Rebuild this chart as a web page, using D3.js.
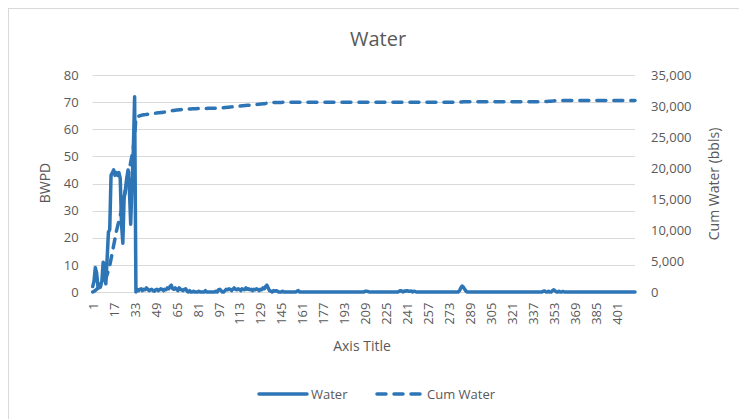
<!DOCTYPE html>
<html>
<head>
<meta charset="utf-8">
<script src="https://cdn.jsdelivr.net/npm/d3@7"></script>
<style>
  body { margin: 0; background: #fff; }
  text { font-family: "Open Sans", sans-serif; fill: #595959; }
</style>
</head>
<body>
<div id="chart"></div>
<script>
// daily water (BWPD), one value per day, days 1..415
const water = [
  2,4,9,7,2,3,2,4,11,10,3,12,22,23,43,44,45,43,44,43,
  44,42,25,18,35,38,42,45,38,25,40,52,72,0,1,0.5,1,1.2,0.5,1,
  0.8,1.5,1,0.5,0.8,1,0.5,0.3,0.8,1,0.5,0.8,1.2,1,0.5,1,0.8,1.5,1.2,2,
  2.5,1.2,1,1.5,1,0.5,1.5,1,0.8,0.5,1,1.2,0.3,0,0.5,0,0,0.3,0,0,
  0,0.3,0,0,0,0,0.5,0,0,0,0,0,0,0,0.3,0,0.8,1,0.5,0,
  0,0.5,1,0.8,1.2,1,0.5,1,1.5,1,0.8,1.2,1,0.5,1.2,1,0.8,1.5,1,1.2,
  0.8,1,0.5,1,0.8,1.2,1,0.5,1,0.8,1.5,1.2,2,2.5,1.5,0.5,0.3,0,0.5,0.3,
  0.5,0.3,0,0,0,0.3,0,0,0,0,0,0,0,0,0,0,0.3,0.5,0,0,
  0,0,0,0,0,0,0,0,0,0,0,0,0,0,0,0,0,0,0,0,
  0,0,0,0,0,0,0,0,0,0,0,0,0,0,0,0,0,0,0,0,
  0,0,0,0,0,0,0,0,0.3,0.3,0.2,0,0,0,0,0,0,0,0,0,
  0,0,0,0,0,0,0,0,0,0,0,0,0,0,0.3,0.5,0.3,0,0.4,0.3,
  0.5,0.3,0.3,0.4,0,0.3,0.2,0,0,0,0,0,0,0,0,0,0,0,0,0,
  0,0,0,0,0,0,0,0,0,0,0,0,0,0,0,0,0,0,0,0,
  0.5,1.5,2.2,1.8,1,0.3,0,0,0,0,0,0,0,0,0,0,0,0,0,0,
  0,0,0,0,0,0,0,0,0,0,0,0,0,0,0,0,0,0,0,0,
  0,0,0,0,0,0,0,0,0,0,0,0,0,0,0,0,0,0,0,0,
  0,0,0,0,0.3,0.4,0,0,0.3,0,0,0.5,0.8,0.4,0,0,0.3,0,0,0.2,
  0,0,0,0,0,0,0,0,0,0,0,0,0,0,0,0,0,0,0,0,
  0,0,0,0,0,0,0,0,0,0,0,0,0,0,0,0,0,0,0,0,
  0,0,0,0,0,0,0,0,0,0,0,0,0,0,0
];

// cumulative water (bbls)
const cumWater = [
  0,100,250,450,600,700,800,1000,1300,1700,2200,2800,3500,4300,5300,6400,7500,8600,9700,10600,
  11400,12300,13300,14300,15300,16300,17400,18600,19800,20900,22000,23300,25000,28200,28300,28360,28420,28500,28540,28580,
  28610,28640,28670,28700,28730,28760,28790,28820,28850,28880,28900,28920,28940,28960,28990,29020,29060,29100,29140,29180,
  29220,29260,29290,29320,29350,29370,29390,29410,29430,29450,29470,29490,29500,29510,29520,29530,29540,29550,29560,29570,
  29580,29580,29590,29590,29600,29600,29610,29610,29620,29620,29630,29630,29640,29640,29650,29650,29660,29680,29700,29710,
  29720,29740,29760,29790,29810,29840,29860,29880,29910,29930,29950,29970,29990,30010,30030,30050,30070,30090,30110,30130,
  30150,30170,30190,30210,30230,30250,30270,30290,30310,30330,30350,30380,30410,30450,30490,30520,30540,30550,30560,30570,
  30575,30580,30580,30580,30580,30585,30585,30585,30585,30585,30585,30585,30585,30585,30585,30585,30590,30600,30600,30600,
  30600,30600,30600,30600,30600,30600,30600,30600,30600,30600,30600,30600,30600,30600,30600,30600,30600,30600,30600,30600,
  30600,30600,30600,30600,30600,30600,30600,30600,30600,30600,30600,30600,30600,30600,30600,30600,30600,30600,30600,30600,
  30600,30600,30600,30600,30600,30600,30600,30600,30600,30600,30600,30600,30600,30600,30600,30600,30600,30600,30600,30600,
  30600,30600,30600,30600,30600,30600,30600,30600,30600,30600,30600,30600,30600,30600,30600,30600,30600,30600,30600,30600,
  30600,30600,30600,30600,30600,30600,30600,30600,30600,30600,30600,30600,30600,30600,30600,30600,30600,30600,30600,30600,
  30600,30600,30600,30600,30600,30600,30600,30600,30600,30600,30600,30600,30600,30600,30600,30600,30600,30600,30600,30600,
  30610,30630,30660,30690,30700,30700,30700,30700,30700,30700,30700,30700,30700,30700,30700,30700,30700,30700,30700,30700,
  30700,30700,30700,30700,30700,30700,30700,30700,30700,30700,30700,30700,30700,30700,30700,30700,30700,30700,30700,30700,
  30700,30700,30700,30700,30700,30700,30700,30700,30700,30700,30700,30700,30700,30700,30700,30700,30700,30700,30700,30700,
  30700,30700,30700,30700,30720,30740,30740,30740,30760,30760,30760,30790,30830,30850,30850,30850,30860,30860,30860,30870,
  30870,30870,30870,30870,30870,30870,30870,30870,30870,30870,30870,30870,30870,30870,30870,30870,30870,30870,30870,30870,
  30870,30870,30870,30870,30870,30870,30870,30870,30870,30870,30870,30870,30870,30870,30870,30870,30870,30870,30870,30870,
  30870,30870,30870,30870,30870,30870,30870,30870,30870,30870,30870,30870,30870,30870,30870
];

const days = water.map((v,i) => i+1);
const xTicks = [1,17,33,49,65,81,97,113,129,145,161,177,193,209,225,241,257,273,289,305,321,337,353,369,385,401];
const leftTicks = [0,10,20,30,40,50,60,70,80];
const rightTicks = [0,5000,10000,15000,20000,25000,30000,35000];

const W = 739, H = 419;
const blue = '#2e75b6', grid = '#d9d9d9';
const plot = { l: 92.7, r: 635, t: 75, b: 292 };

let svg = d3.select('#chart').append('svg').attr('width',W).attr('height',H);

// chart frame (only left/top edges show in the crop)
svg.append('rect')
  .attr('x',8.5).attr('y',8.5).attr('width',W+20).attr('height',H+20)
  .attr('fill','#fff').attr('stroke','#d9d9d9');

let x = d3.scalePoint().domain(days).range([plot.l, plot.r]);
let yL = d3.scaleLinear().domain([0,80]).range([plot.b, plot.t]);
let yR = d3.scaleLinear().domain([0,35000]).range([plot.b, plot.t]);

// gridlines
svg.append('g').selectAll('line').data(leftTicks.slice(1)).enter().append('line')
  .attr('x1',plot.l).attr('x2',plot.r)
  .attr('y1',d => Math.round(yL(d))+0.5).attr('y2',d => Math.round(yL(d))+0.5)
  .attr('stroke',grid);

// left axis
let gl = svg.append('g').attr('transform','translate('+(plot.l-6)+',0)')
  .call(d3.axisLeft(yL).tickValues(leftTicks).tickSize(0).tickPadding(8));
gl.select('.domain').remove();

// right axis
let gr = svg.append('g').attr('transform','translate('+(plot.r+8)+',0)')
  .call(d3.axisRight(yR).tickValues(rightTicks).tickSize(0).tickPadding(8).tickFormat(d3.format(',')));
gr.select('.domain').remove();

// bottom axis
let gb = svg.append('g').attr('transform','translate(0,'+(plot.b+0.5)+')')
  .call(d3.axisBottom(x).tickValues(xTicks).tickSize(0).tickPadding(0));
gb.select('.domain').attr('stroke',grid).attr('d','M'+plot.l+',0H'+plot.r);
gb.selectAll('.tick text')
  .attr('transform','rotate(-90)')
  .attr('text-anchor','end')
  .attr('x',-10).attr('y',0).attr('dy','0.35em');

svg.selectAll('.tick text').style('font-size','13px').attr('fill','#595959')
  .style('font-family','"Open Sans", sans-serif');

// series
let lineW = d3.line().x((d,i) => x(days[i])).y(d => yL(d));
let lineC = d3.line().x((d,i) => x(days[i])).y(d => yR(d));

svg.append('path').datum(water).attr('d',lineW)
  .attr('fill','none').attr('stroke',blue).attr('stroke-width',3.5)
  .attr('stroke-linejoin','round').attr('stroke-linecap','round');

svg.append('path').datum(cumWater).attr('d',lineC)
  .attr('fill','none').attr('stroke',blue).attr('stroke-width',3.5)
  .attr('stroke-dasharray','9,8')
  .attr('stroke-linejoin','round').attr('stroke-linecap','round');

// titles
svg.append('text').attr('x',378).attr('y',46).attr('text-anchor','middle')
  .style('font-size','20px').text('Water');
svg.append('text').attr('transform','translate(50,183) rotate(-90)')
  .attr('text-anchor','middle').style('font-size','14px').text('BWPD');
svg.append('text').attr('transform','translate(719,184) rotate(-90)')
  .attr('text-anchor','middle').style('font-size','14px').text('Cum Water (bbls)');
svg.append('text').attr('x',362).attr('y',351).attr('text-anchor','middle')
  .style('font-size','14px').text('Axis Title');

// legend
let leg = svg.append('g');
leg.append('line').attr('x1',259).attr('x2',307).attr('y1',394).attr('y2',394)
  .attr('stroke',blue).attr('stroke-width',3.5).attr('stroke-linecap','round');
leg.append('text').attr('x',311).attr('y',399).style('font-size','13px').text('Water');
leg.append('line').attr('x1',377).attr('x2',422).attr('y1',394).attr('y2',394)
  .attr('stroke',blue).attr('stroke-width',3.5).attr('stroke-linecap','round')
  .attr('stroke-dasharray','9,8');
leg.append('text').attr('x',427).attr('y',399).style('font-size','13px').text('Cum Water');
</script>
</body>
</html>
